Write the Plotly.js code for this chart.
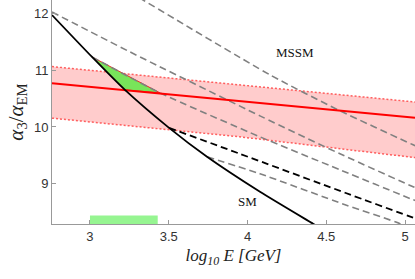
<!DOCTYPE html>
<html>
<head>
<meta charset="utf-8">
<script src="https://cdn.plot.ly/plotly-3.0.1.min.js"></script>
<style>html,body{margin:0;padding:0;background:#fff;}#chart{width:415px;height:279px;}</style>
</head>
<body>
<div id="chart"></div>
<script>
// ---- data ----
const xTicks = [3, 3.5, 4, 4.5, 5];
const xTickText = ['3', '3.5', '4', '4.5', '5'];
const yTicks = [9, 10, 11, 12];
const yTickText = ['9', '10', '11', '12'];

// experimental band (central value and +/- edges)
const bandX = [2.759, 3.952, 5.063];
const bandCenter = [10.770, 10.454, 10.160];
const bandUpper = [11.062, 10.741, 10.439];
const bandLower = [10.155, 9.826, 9.460];

// SM running (solid black)
const smX = [2.759, 3.013, 3.222, 3.502, 3.743, 4.079, 4.416, 4.45];
const smY = [11.970, 11.232, 10.652, 9.984, 9.475, 8.859, 8.297, 8.24];

// black dashed branch
const bdX = [3.502, 3.952, 4.619, 5.051, 5.07];
const bdY = [9.984, 9.527, 8.842, 8.403, 8.385];

// MSSM gray dashed branches
const mA_X = [3.254, 3.337, 4.143, 4.575, 5.051, 5.07];
const mA_Y = [12.374, 12.234, 10.916, 10.300, 9.685, 9.66];
const mB_X = [2.759, 3.254, 4.079, 4.587, 5.051, 5.07];
const mB_Y = [12.023, 11.320, 10.195, 9.527, 8.947, 8.925];
const mC_X = [3.013, 3.444, 4.079, 4.587, 5.051, 5.07];
const mC_Y = [11.232, 10.600, 9.826, 9.246, 8.719, 8.70];
const mD_X = [3.743, 4.079, 4.619, 4.968, 5.0];
const mD_Y = [9.475, 9.176, 8.631, 8.297, 8.24];

// green triangle (allowed region)
const triX = [3.013, 3.222, 3.444, 3.013];
const triY = [11.232, 10.652, 10.600, 11.232];

// green bar on the x axis
const barX = [3.0, 3.43];
const barY = [8.292, 8.44];

// ---- traces ----
const gray = 'rgb(128,128,128)';
const grayDash = '7px,4px';
const traces = [
  {x: bandX, y: bandLower, mode: 'lines', line: {color: 'rgba(255,80,80,0.9)', width: 1.5, dash: '2px,2px'}, hoverinfo: 'skip'},
  {x: bandX, y: bandUpper, mode: 'lines', fill: 'tonexty', fillcolor: 'rgba(255,0,0,0.2)', line: {color: 'rgba(255,80,80,0.9)', width: 1.5, dash: '2px,2px'}, hoverinfo: 'skip'},
  {x: [barX[0], barX[1], barX[1], barX[0], barX[0]], y: [barY[0], barY[0], barY[1], barY[1], barY[0]], mode: 'lines', fill: 'toself', fillcolor: 'rgb(150,245,145)', line: {width: 0}, hoverinfo: 'skip'},
  {x: triX, y: triY, mode: 'lines', fill: 'toself', fillcolor: 'rgb(120,228,90)', line: {color: 'rgba(230,30,30,0.9)', width: 1}, hoverinfo: 'skip'},
  {x: mA_X, y: mA_Y, mode: 'lines', line: {color: gray, width: 1.6, dash: grayDash, shape: 'spline', smoothing: 0.6}},
  {x: mB_X, y: mB_Y, mode: 'lines', line: {color: gray, width: 1.6, dash: grayDash, shape: 'spline', smoothing: 0.6}},
  {x: mC_X, y: mC_Y, mode: 'lines', line: {color: gray, width: 1.6, dash: grayDash, shape: 'spline', smoothing: 0.6}},
  {x: mD_X, y: mD_Y, mode: 'lines', line: {color: gray, width: 1.6, dash: grayDash, shape: 'spline', smoothing: 0.6}},
  {x: bandX, y: bandCenter, mode: 'lines', line: {color: 'rgb(255,0,0)', width: 2}},
  {x: bdX, y: bdY, mode: 'lines', line: {color: 'black', width: 1.8, dash: '7px,4px', shape: 'spline', smoothing: 0.6}},
  {x: smX, y: smY, mode: 'lines', line: {color: 'black', width: 1.8, shape: 'spline', smoothing: 0.6}}
];

const tickFont = {family: 'Liberation Sans, Arial, sans-serif', size: 13, color: '#333'};
const serif = 'Liberation Serif, Times New Roman, serif';
const layout = {
  width: 415, height: 279,
  margin: {l: 52, r: 0, t: 0, b: 55, pad: 0},
  showlegend: false,
  paper_bgcolor: '#fff', plot_bgcolor: '#fff',
  xaxis: {
    range: [2.759, 5.063], tickvals: xTicks, ticktext: xTickText,
    ticks: 'inside', ticklen: 4, tickcolor: '#999', tickwidth: 1,
    showline: true, linecolor: '#999', linewidth: 1, mirror: false,
    showgrid: false, zeroline: false, tickfont: tickFont,
    title: {text: '<i>log<sub>10</sub> E [GeV]</i>', font: {family: serif, size: 17, color: '#222'}, standoff: 6}
  },
  yaxis: {
    range: [8.292, 12.234], tickvals: yTicks, ticktext: yTickText,
    ticks: 'inside', ticklen: 4, tickcolor: '#999', tickwidth: 1,
    showline: true, linecolor: '#999', linewidth: 1, mirror: false,
    showgrid: false, zeroline: false, tickfont: tickFont,
    title: {text: '<i>α</i><sub>3</sub>/<i>α</i><sub>EM</sub>', font: {family: serif, size: 21, color: '#222'}, standoff: 4}
  },
  annotations: [
    {x: 4.302, y: 11.302, xref: 'x', yref: 'y', text: 'MSSM', showarrow: false, font: {family: serif, size: 13, color: '#111'}},
    {x: 4.003, y: 8.68, xref: 'x', yref: 'y', text: 'SM', showarrow: false, font: {family: serif, size: 13, color: '#111'}}
  ]
};
Plotly.newPlot('chart', traces, layout, {staticPlot: true, displayModeBar: false});
</script>
</body>
</html>
